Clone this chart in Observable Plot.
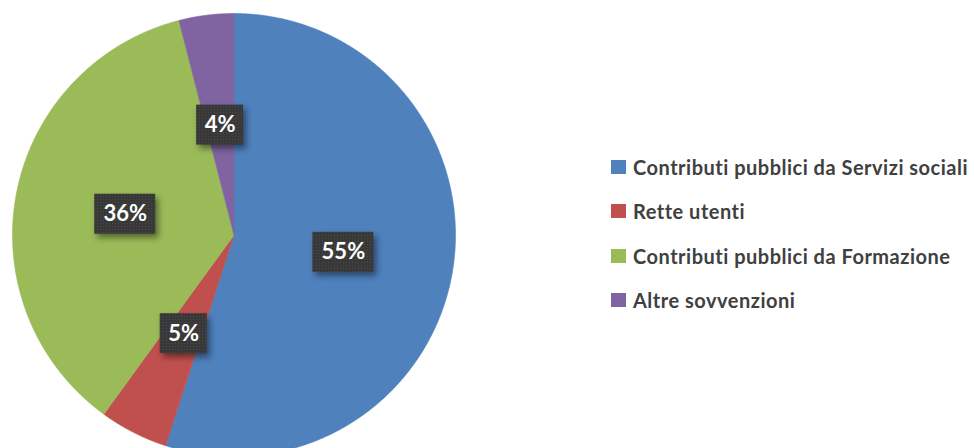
<!DOCTYPE html>
<html><head><meta charset="utf-8">
<script src="https://cdn.jsdelivr.net/npm/d3@7"></script>
<script src="https://cdn.jsdelivr.net/npm/@observablehq/plot@0.6"></script>
<style>
body{margin:0;background:#fff;}
#wrap{position:relative;width:975px;height:448px;overflow:hidden;}
#legend{position:absolute;left:611px;top:145px;font-family:Lato,"Liberation Sans",sans-serif;font-weight:700;font-size:20px;letter-spacing:0.5px;font-variant-ligatures:none;color:#404040;}
.row{display:flex;align-items:center;height:44.3px;white-space:nowrap;}
.sw{width:15px;height:14px;margin-right:7px;flex:none;}
</style></head><body><div id="wrap"></div>
<script>
const categories = ["Contributi pubblici da Servizi sociali", "Rette utenti", "Contributi pubblici da Formazione", "Altre sovvenzioni"];
const values = [55, 5, 36, 4];
const labels = ["55%", "5%", "36%", "4%"];
const colors = ["#4F81BD", "#C0504D", "#9BBB59", "#8064A2"];

// slice geometry derived from the values (clockwise from 12 o'clock)
const arcs = d3.pie().sort(null).value(d => d)(values);
const wedge = [];
arcs.forEach((a, i) => {
  const cat = categories[i];
  wedge.push({cat, x: 0, y: 0});
  const n = Math.max(2, Math.ceil((a.endAngle - a.startAngle) / 0.005));
  for (let k = 0; k <= n; k++) {
    const t = a.startAngle + (a.endAngle - a.startAngle) * k / n;
    wedge.push({cat, x: Math.sin(t), y: Math.cos(t)});
  }
  wedge.push({cat, x: 0, y: 0});
});
const lab = arcs.map((a, i) => {
  const m = (a.startAngle + a.endAngle) / 2;
  return {label: labels[i], x: 0.5 * Math.sin(m), y: 0.5 * Math.cos(m)};
});

const boxStyle = {x1: "x", x2: "x", y1: "y", y2: "y", fill: "#3b3b3b", insetTop: -20, insetBottom: -20};

const chart = Plot.plot({
  width: 975,
  height: 448,
  margin: 0,
  x: {domain: [-1, 1], range: [12, 455], axis: null},
  y: {domain: [-1, 1], range: [456, 13], axis: null},
  color: {domain: categories, range: colors},
  style: {background: "white", overflow: "hidden"},
  marks: [
    Plot.line(wedge, {x: "x", y: "y", z: "cat", fill: "cat", stroke: "cat", strokeWidth: 0.6}),
    Plot.rect(lab, {...boxStyle, filter: d => d.label.length === 3, insetLeft: -30.5, insetRight: -30.5}),
    Plot.rect(lab, {...boxStyle, filter: d => d.label.length === 2, insetLeft: -23.5, insetRight: -23.5}),
    Plot.text(lab, {x: "x", y: "y", text: "label", fill: "white", fontSize: 22, fontWeight: 700, fontFamily: "Lato, 'Liberation Sans', sans-serif"})
  ]
});

// dotted texture + drop shadow for the label boxes
const ns = "http://www.w3.org/2000/svg";
const defs = document.createElementNS(ns, "defs");
defs.innerHTML = '<pattern id="dots" width="3" height="3" patternUnits="userSpaceOnUse"><rect width="3" height="3" fill="#383838"/><rect x="1" y="1" width="1" height="1" fill="#4a4a4a"/></pattern>';
chart.insertBefore(defs, chart.firstChild);
chart.querySelectorAll('g[aria-label="rect"]').forEach(g => {
  g.style.filter = "drop-shadow(3px 4px 3px rgba(0,0,0,0.45))";
  g.querySelectorAll("rect").forEach(r => r.setAttribute("fill", "url(#dots)"));
});

const wrap = document.getElementById("wrap");
wrap.appendChild(chart);

const legend = document.createElement("div");
legend.id = "legend";
categories.forEach((c, i) => {
  const row = document.createElement("div");
  row.className = "row";
  const sw = document.createElement("div");
  sw.className = "sw";
  sw.style.background = colors[i];
  const tx = document.createElement("span");
  tx.textContent = c;
  row.appendChild(sw);
  row.appendChild(tx);
  legend.appendChild(row);
});
wrap.appendChild(legend);
</script>
</body></html>
